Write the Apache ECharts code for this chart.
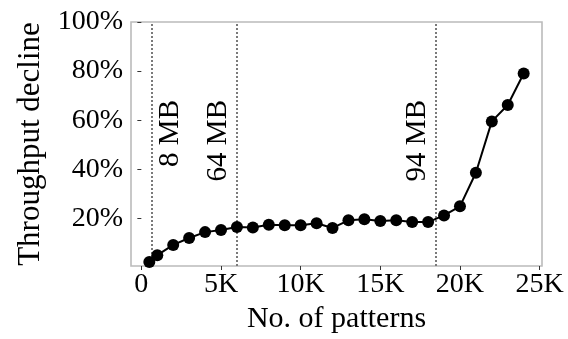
<!DOCTYPE html>
<html>
<head>
<meta charset="utf-8">
<script src="https://cdn.jsdelivr.net/npm/echarts@6/dist/echarts.min.js"></script>
<style>
  html, body { margin: 0; padding: 0; background: #fff; }
  #chart { width: 568px; height: 339px; }
</style>
</head>
<body>
<div id="chart"></div>
<script>
// Number of patterns loaded
const patterns = [500, 1000, 2000, 3000, 4000, 5000, 6000, 7000, 8000, 9000, 10000,
  11000, 12000, 13000, 14000, 15000, 16000, 17000, 18000, 19000, 20000,
  21000, 22000, 23000, 24000];
// Throughput decline in percent
const decline = [2.2, 5.0, 9.2, 12.0, 14.4, 15.3, 16.5, 16.3, 17.4, 17.2, 17.2,
  18.0, 16.1, 19.2, 19.6, 18.9, 19.2, 18.5, 18.5, 21.2, 24.9,
  38.6, 59.5, 66.2, 79.0];
// Memory footprint markers
const memMarks = [640, 6000, 18500];
const memLabels = ['8 MB', '64 MB', '94 MB'];
const memSides = ['insideEndBottom', 'insideEndTop', 'insideEndTop'];
// Tick values
const xTicks = [0, 5000, 10000, 15000, 20000, 25000];
const yTicks = [20, 40, 60, 80, 100];

const FONT = '"Liberation Serif", "DejaVu Serif", serif';

const chart = echarts.init(document.getElementById('chart'), null, { renderer: 'canvas' });

chart.setOption({
  animation: false,
  backgroundColor: '#fff',
  grid: {
    left: 131, right: 26, top: 22, bottom: 72,
    show: true, borderColor: '#bbbbbb', borderWidth: 1.6, backgroundColor: 'transparent'
  },
  xAxis: {
    type: 'value',
    min: -650, max: 25150,
    name: 'No. of patterns',
    nameLocation: 'middle',
    nameGap: 38,
    nameTextStyle: { fontFamily: FONT, fontSize: 30, color: '#000' },
    axisLine: { show: false },
    splitLine: { show: false },
    axisTick: { show: true, length: 4, customValues: xTicks, lineStyle: { color: '#333', width: 1 } },
    axisLabel: {
      customValues: xTicks,
      fontFamily: FONT, fontSize: 28, color: '#000', margin: 5,
      formatter: v => v === 0 ? '0' : (v / 1000) + 'K'
    }
  },
  yAxis: {
    type: 'value',
    min: 0.6, max: 100,
    name: 'Throughput decline',
    nameLocation: 'middle',
    nameGap: 85,
    nameTextStyle: { fontFamily: FONT, fontSize: 31, color: '#000' },
    axisLine: { show: false },
    splitLine: { show: false },
    axisTick: { show: true, length: 4, customValues: yTicks, lineStyle: { color: '#333', width: 1 } },
    axisLabel: {
      customValues: yTicks,
      fontFamily: FONT, fontSize: 28, color: '#000', margin: 8,
      formatter: v => Math.round(v) + '%'
    }
  },
  series: [{
    type: 'line',
    data: patterns.map((x, i) => [x, decline[i]]),
    symbol: 'circle',
    symbolSize: 12,
    itemStyle: { color: '#000' },
    lineStyle: { color: '#000', width: 2 },
    z: 3,
    markLine: {
      silent: true,
      symbol: 'none',
      z: 2,
      lineStyle: { type: 'dotted', color: '#7a7a7a', width: 2 },
      data: memMarks.map((x, i) => ({
        xAxis: x,
        label: {
          show: true,
          formatter: memLabels[i],
          position: memSides[i],
          distance: [78, 4],
          fontFamily: FONT, fontSize: 29, color: '#000'
        }
      }))
    }
  }]
});
</script>
</body>
</html>
